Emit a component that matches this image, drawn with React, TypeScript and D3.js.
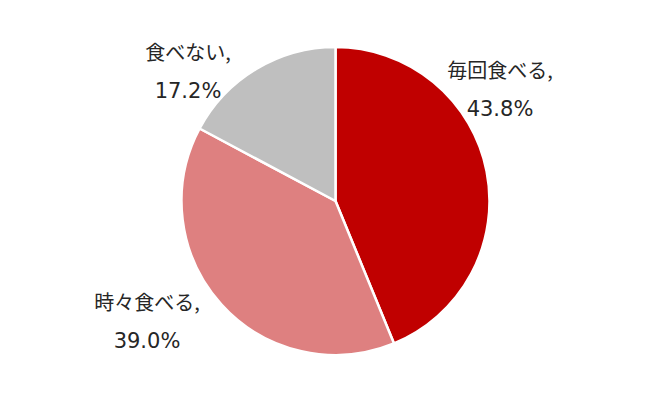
import React from "react";
import * as d3 from "d3";

const categories = ["毎回食べる", "時々食べる", "食べない"];
const values = [43.8, 39.0, 17.2];
const valueLabels = ["43.8%", "39.0%", "17.2%"];
const colors = ["#C00000", "#DE8080", "#BFBFBF"];

const W = 670, H = 403;
const cx = 335.5, cy = 201, R = 154;

// label anchor positions (center x, first-line baseline)
const labelPos = [
  { x: 500, y: 78 },
  { x: 147, y: 310 },
  { x: 188, y: 60 },
];

export default function App() {
  const pie = d3.pie<number>().sort(null).value((d) => d);
  const arcs = pie(values);
  const arc = d3.arc<d3.PieArcDatum<number>>().innerRadius(0).outerRadius(R);
  return (
    <svg width={W} height={H} style={{ position: "absolute", left: 0, top: 0, background: "#fff" }}>
      <g transform={`translate(${cx},${cy})`}>
        {arcs.map((a, i) => (
          <path key={i} d={arc(a) || ""} fill={colors[i]} stroke="#fff" strokeWidth={2.5} strokeLinejoin="round" />
        ))}
      </g>
      {categories.map((c, i) => (
        <g key={i} fill="#262626">
          <text x={labelPos[i].x} y={labelPos[i].y} textAnchor="middle" fontFamily="'Noto Sans CJK JP', sans-serif" fontSize={20}>
            {c},
          </text>
          <text x={labelPos[i].x} y={labelPos[i].y + 38} textAnchor="middle" fontFamily="'DejaVu Sans', sans-serif" fontSize={21}>
            {valueLabels[i]}
          </text>
        </g>
      ))}
    </svg>
  );
}
